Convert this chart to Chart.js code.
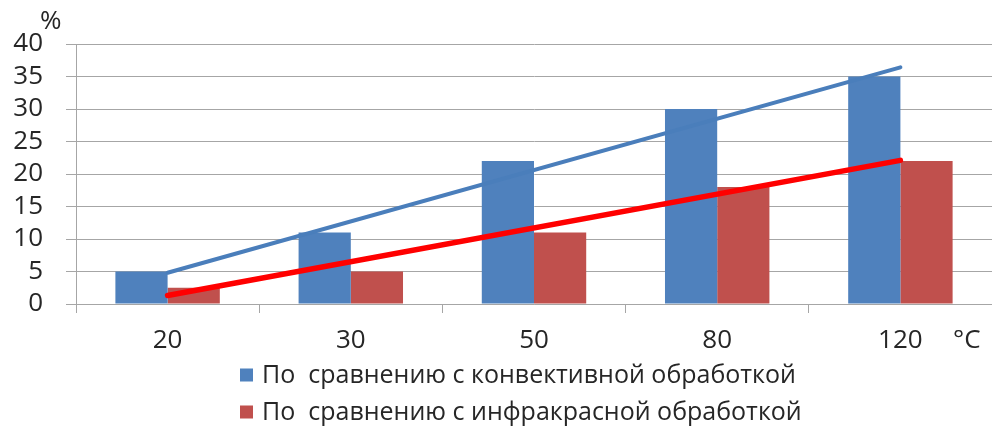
<!DOCTYPE html>
<html>
<head>
<meta charset="utf-8">
<script src="https://cdn.jsdelivr.net/npm/chart.js@4"></script>
<style>
  html, body { margin: 0; padding: 0; background: #fff; }
  #wrap { width: 992px; height: 432px; }
</style>
</head>
<body>
<div id="wrap"><canvas id="c" width="992" height="432"></canvas></div>
<script>
// Temperature categories, °C
const temperatures = ['20', '30', '50', '80', '120'];

// Gain in % compared with convective and with infrared treatment
const convectiveGain = [5, 11, 22, 30, 35];
const infraredGain = [2.5, 5, 11, 18, 22];

// Linear trend lines, values at the first and last category
const convectiveTrend = [4.8, null, null, null, 36.4];
const infraredTrend = [1.3, null, null, null, 22.1];

const seriesNames = [
  'По  сравнению с конвективной обработкой',
  'По  сравнению с инфракрасной обработкой'
];

const FONT = '"Open Sans", Lato, sans-serif';
const TEXT = '#262626';
const GRID = '#a6a6a6';
const TICK_SIZE = 26;
const X_TICK_LEN = 9;
const X_TICK_PAD = 12;

// Unit labels: "%" above the value axis, "°C" after the last category label
const unitLabels = {
  id: 'unitLabels',
  afterDraw(chart) {
    const { ctx, scales } = chart;
    const y = scales.y, x = scales.x;
    ctx.save();
    ctx.fillStyle = TEXT;
    ctx.font = TICK_SIZE + 'px ' + FONT;
    ctx.textBaseline = 'middle';
    ctx.textAlign = 'left';
    ctx.fillText('%', 40, y.getPixelForValue(40) - 22);
    ctx.fillText('°C', 953, x.top + X_TICK_LEN + X_TICK_PAD + TICK_SIZE * 0.6);
    ctx.restore();
  }
};

// Legend of the bar series, one entry per row, left aligned
const stackedLegend = {
  id: 'stackedLegend',
  afterDraw(chart) {
    const { ctx } = chart;
    const bars = chart.data.datasets.filter(d => !d.type);
    ctx.save();
    ctx.font = '25px ' + FONT;
    ctx.textBaseline = 'middle';
    ctx.textAlign = 'left';
    bars.forEach((ds, i) => {
      const cy = 375 + i * 37;
      ctx.fillStyle = ds.backgroundColor;
      ctx.fillRect(240, cy - 6.5, 13, 13);
      ctx.fillStyle = TEXT;
      ctx.fillText(ds.label, 262, cy + 1);
    });
    ctx.restore();
  }
};

new Chart(document.getElementById('c'), {
  type: 'bar',
  data: {
    labels: temperatures,
    datasets: [
      {
        type: 'line',
        label: 'trend-convective',
        data: convectiveTrend,
        borderColor: '#4a7ebb',
        borderWidth: 4,
        borderCapStyle: 'round',
        pointRadius: 0,
        spanGaps: true,
        order: 0
      },
      {
        type: 'line',
        label: 'trend-infrared',
        data: infraredTrend,
        borderColor: '#ff0000',
        borderWidth: 5.5,
        borderCapStyle: 'round',
        pointRadius: 0,
        spanGaps: true,
        order: 0
      },
      {
        label: seriesNames[0],
        data: convectiveGain,
        backgroundColor: '#4f81bd',
        categoryPercentage: 0.57,
        barPercentage: 1.0,
        order: 1
      },
      {
        label: seriesNames[1],
        data: infraredGain,
        backgroundColor: '#c0504d',
        categoryPercentage: 0.57,
        barPercentage: 1.0,
        order: 1
      }
    ]
  },
  options: {
    responsive: false,
    animation: false,
    devicePixelRatio: 1,
    layout: { padding: { top: 44, right: 0, bottom: 84, left: 0 } },
    plugins: {
      tooltip: { enabled: false },
      legend: { display: false }
    },
    scales: {
      x: {
        offset: true,
        afterFit(scale) { scale.height = 44; },
        grid: {
          drawOnChartArea: false,
          drawTicks: true,
          tickLength: X_TICK_LEN,
          color: GRID,
          offset: true
        },
        border: { color: GRID },
        ticks: {
          autoSkip: false,
          maxRotation: 0,
          color: TEXT,
          padding: X_TICK_PAD,
          font: { family: FONT, size: TICK_SIZE }
        }
      },
      y: {
        min: 0,
        max: 40,
        afterFit(scale) { scale.width = 76; },
        grid: {
          color: GRID,
          tickLength: 10,
          drawTicks: true
        },
        border: { color: GRID },
        ticks: {
          stepSize: 5,
          autoSkip: false,
          color: TEXT,
          padding: 23,
          font: { family: FONT, size: TICK_SIZE }
        }
      }
    }
  },
  plugins: [unitLabels, stackedLegend]
});
</script>
</body>
</html>
